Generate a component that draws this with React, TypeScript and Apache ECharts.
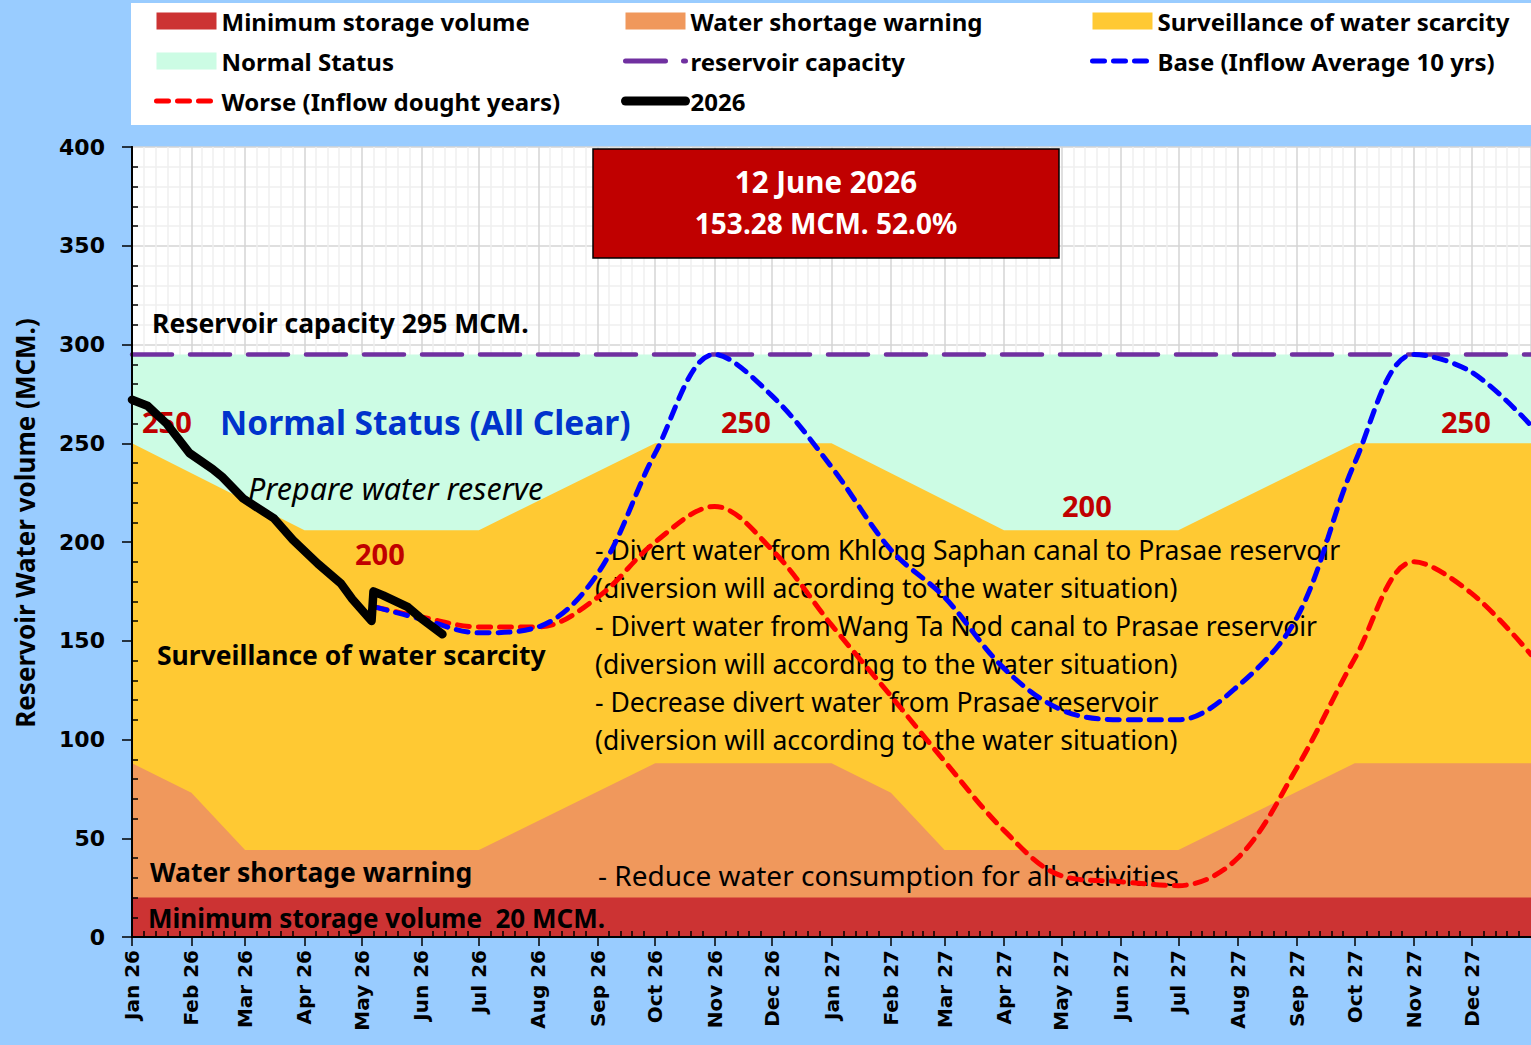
import React, { useEffect, useRef } from "react";
import * as echarts from "echarts";

// ---------- data ----------
const monthNames = ["Jan", "Feb", "Mar", "Apr", "May", "Jun", "Jul", "Aug", "Sep", "Oct", "Nov", "Dec"];
const axisStart = "2026-01-01";
const axisEnd = "2028-01-01";

const capacity = 295;
const minStorage = 20;

// top of "Water shortage warning" band
const shortageDates = ["2026-01-01", "2026-02-01", "2026-03-01", "2026-07-01", "2026-10-01", "2027-01-01", "2027-02-01", "2027-03-01", "2027-07-01", "2027-10-01", "2028-01-01"];
const shortageTop = [88, 73, 44, 44, 88, 88, 73, 44, 44, 88, 88];

// top of "Surveillance of water scarcity" band
const scarcityDates = ["2026-01-01", "2026-04-01", "2026-07-01", "2026-10-01", "2027-01-01", "2027-04-01", "2027-07-01", "2027-10-01", "2028-01-01"];
const scarcityTop = [250, 206, 206, 250, 250, 206, 206, 250, 250];

// projections
const projDates = ["2026-05-08", "2026-06-01", "2026-07-01", "2026-08-01", "2026-09-01", "2026-10-01", "2026-11-01", "2026-12-01", "2027-01-01", "2027-02-01", "2027-03-01", "2027-04-01", "2027-05-01", "2027-06-01", "2027-07-01", "2027-08-01", "2027-09-01", "2027-10-01", "2027-11-01", "2027-12-01", "2028-01-01"];
const baseValues = [167, 161, 154, 157, 184, 245, 295, 274, 238, 196, 172, 136, 115, 110, 110, 127, 162, 240, 295, 286, 259];
const worseValues = [167, 162, 157, 157, 172, 200, 218, 196, 158, 122, 89, 54, 31, 28, 26, 40, 86, 141, 190, 174, 143];

// observed 2026
const obsDates = ["2026-01-01", "2026-01-09", "2026-01-19", "2026-01-31", "2026-02-12", "2026-02-17", "2026-02-28", "2026-03-16", "2026-03-26", "2026-04-08", "2026-04-20", "2026-04-26", "2026-05-06", "2026-05-07", "2026-05-12", "2026-05-25", "2026-05-31", "2026-06-12"];
const obsValues = [272, 269, 260, 245, 237, 233, 222, 212, 201, 189, 179, 171, 160, 175, 173, 167, 162, 153.28];

const ts = (s: string) => {
  const [y, m, d] = s.split("-").map(Number);
  return new Date(y, m - 1, d).getTime();
};
const zip = (dates: string[], vals: number[]) => dates.map((d, i) => [ts(d), vals[i]]);

const FONT = '"Noto Sans", sans-serif';

export default function App() {
  const ref = useRef<HTMLDivElement>(null);
  useEffect(() => {
    if (!ref.current) return;
    const chart = echarts.init(ref.current, undefined, { renderer: "svg" });
    const xMin = ts(axisStart);
    const xMax = ts(axisEnd);
    const DAY = 86400000;

    const band = (name: string, data: number[][], color: string) => ({
      name,
      type: "line",
      data,
      symbol: "none",
      silent: true,
      z: 1,
      lineStyle: { width: 0, color },
      itemStyle: { color },
      areaStyle: { color, opacity: 1, origin: "start" },
    });

    const redStyle = { color: "#FF0000", width: 5, type: [12, 9], cap: "round" };
    const blueStyle = { color: "#0000FF", width: 5, type: [12, 9], cap: "round" };
    const purpleStyle = { color: "#7030A0", width: 4.5, type: [40, 18], cap: "round" };
    const blackStyle = { color: "#000", width: 8.5, cap: "round", join: "round" };

    const legendText = { fontFamily: FONT, fontWeight: "bold", fontSize: 24, color: "#000", lineHeight: 22 };
    const legendCommon = {
      orient: "vertical",
      top: 9,
      itemGap: 16,
      itemWidth: 60,
      itemHeight: 17,
      selectedMode: false,
      textStyle: legendText,
      padding: 0,
    };
    const lineItem = (name: string, ls: any) => ({ name, itemStyle: { opacity: 0 }, lineStyle: ls });

    const txt = (text: string, x: number, y: number, font: string, fill = "#000", extra: any = {}) => ({
      type: "text",
      x,
      y,
      z: 3,
      silent: true,
      style: { text, font, fill, align: "left", verticalAlign: "middle", textAlign: "left", textVerticalAlign: "middle", ...extra },
    });

    const option: any = {
      animation: false,
      backgroundColor: "#99CCFF",
      grid: { left: 132, right: 0, top: 147, bottom: 108, show: true, backgroundColor: "#ffffff", borderWidth: 0, containLabel: false, outerBoundsMode: "none" },
      legend: [
        { ...legendCommon, left: 154, data: [{ name: "Minimum storage volume", icon: "rect" }, { name: "Normal Status", icon: "rect" }, lineItem("Worse (Inflow dought years)", { ...redStyle })] },
        { ...legendCommon, left: 621, data: [{ name: "Water shortage warning", icon: "rect" }, lineItem("reservoir capacity", { ...purpleStyle, width: 5 }), lineItem("2026", { ...blackStyle, width: 9 })] },
        { ...legendCommon, left: 1090, data: [{ name: "Surveillance of water scarcity", icon: "rect" }, lineItem("Base (Inflow Average 10 yrs)", { ...blueStyle })] },
      ],
      xAxis: [
        {
          type: "time",
          min: xMin,
          max: xMax,
          minInterval: 28 * DAY,
          maxInterval: 31 * DAY,
          z: 0,
          axisLine: { show: true, lineStyle: { color: "#000", width: 2 } },
          axisTick: { show: true, length: 9, lineStyle: { color: "#000", width: 1.5 } },
          splitLine: { show: true, lineStyle: { color: "#d4d4d4", width: 1.5 } },
          minorTick: { show: false, splitNumber: 5 },
          minorSplitLine: { show: true, lineStyle: { color: "#efefef", width: 1.5 } },
          axisLabel: {
            rotate: 90,
            margin: 13,
            color: "#000",
            fontFamily: "DejaVu Sans",
            fontWeight: "bold",
            fontSize: 20,
            showMaxLabel: false,
            hideOverlap: false,
            formatter: (v: number) => {
              if (v >= xMax) return "";
              const d = new Date(v);
              return monthNames[d.getMonth()] + " " + String(d.getFullYear()).slice(2);
            },
          },
        },
        {
          type: "time",
          min: xMin,
          max: xMax,
          minInterval: 28 * DAY,
          maxInterval: 31 * DAY,
          position: "bottom",
          z: 6,
          axisLine: { show: true, lineStyle: { color: "#000", width: 2 } },
          axisTick: { show: false, inside: true },
          axisLabel: { show: false },
          splitLine: { show: false },
          minorTick: { show: true, splitNumber: 5, length: 6, lineStyle: { color: "#000", width: 1.5 } },
        },
      ],
      yAxis: [
        {
          type: "value",
          min: 0,
          max: 400,
          interval: 50,
          z: 0,
          axisLine: { show: true, lineStyle: { color: "#000", width: 2 } },
          axisTick: { show: true, length: 10, lineStyle: { color: "#000", width: 1.5 } },
          splitLine: { show: true, lineStyle: { color: "#d4d4d4", width: 1.5 } },
          minorTick: { show: false, splitNumber: 5 },
          minorSplitLine: { show: true, lineStyle: { color: "#efefef", width: 1.5 } },
          axisLabel: { margin: 27, color: "#000", fontFamily: "DejaVu Sans", fontWeight: "bold", fontSize: 22 },
        },
        {
          type: "value",
          min: 0,
          max: 400,
          interval: 50,
          position: "left",
          z: 6,
          axisLine: { show: true, lineStyle: { color: "#000", width: 2 } },
          axisTick: { show: false, inside: true },
          axisLabel: { show: false },
          splitLine: { show: false },
          minorTick: { show: true, splitNumber: 5, length: 6, lineStyle: { color: "#000", width: 1.5 } },
        },
      ],
      series: [
        band("Normal Status", [[xMin, capacity], [xMax, capacity]], "#CCFCE4"),
        band("Surveillance of water scarcity", zip(scarcityDates, scarcityTop), "#FFC933"),
        band("Water shortage warning", zip(shortageDates, shortageTop), "#F0985C"),
        band("Minimum storage volume", [[xMin, minStorage], [xMax, minStorage]], "#CC3333"),
        {
          name: "reservoir capacity",
          type: "line",
          data: [[xMin, capacity], [xMax, capacity]],
          symbol: "none",
          z: 4,
          itemStyle: { color: "#7030A0" },
          lineStyle: purpleStyle,
        },
        {
          name: "Worse (Inflow dought years)",
          type: "line",
          data: zip(projDates, worseValues),
          symbol: "none",
          smooth: 0.35,
          z: 5,
          itemStyle: { color: "#FF0000" },
          lineStyle: redStyle,
        },
        {
          name: "Base (Inflow Average 10 yrs)",
          type: "line",
          data: zip(projDates, baseValues),
          symbol: "none",
          smooth: 0.35,
          z: 5,
          itemStyle: { color: "#0000FF" },
          lineStyle: blueStyle,
        },
        {
          name: "2026",
          type: "line",
          data: zip(obsDates, obsValues),
          symbol: "none",
          z: 7,
          itemStyle: { color: "#000" },
          lineStyle: blackStyle,
        },
      ],
      graphic: [
        { type: "rect", z: -1, silent: true, shape: { x: 131, y: 3, width: 1400, height: 122 }, style: { fill: "#ffffff" } },
        {
          type: "text",
          x: 25,
          y: 523,
          rotation: Math.PI / 2,
          z: 3,
          silent: true,
          style: { text: "Reservoir Water volume (MCM.)", font: `bold 26px ${FONT}`, fill: "#000", align: "center", verticalAlign: "middle", textAlign: "center", textVerticalAlign: "middle" },
        },
        txt("Reservoir capacity 295 MCM.", 152, 323, `bold 26.5px ${FONT}`),
        txt("Normal Status (All Clear)", 220, 422, `bold 33.5px ${FONT}`, "#0033CC"),
        txt("250", 142, 421, `bold 29px ${FONT}`, "#C00000"),
        txt("250", 721, 421, `bold 29px ${FONT}`, "#C00000"),
        txt("250", 1441, 421, `bold 29px ${FONT}`, "#C00000"),
        txt("200", 355, 553, `bold 29px ${FONT}`, "#C00000"),
        txt("200", 1062, 505, `bold 29px ${FONT}`, "#C00000"),
        txt("Prepare water reserve", 248, 488, `italic 30.5px ${FONT}`),
        txt("Surveillance of water scarcity", 157, 655, `bold 26.5px ${FONT}`),
        txt("Water shortage warning", 150, 872, `bold 26.5px ${FONT}`),
        txt("Minimum storage volume  20 MCM.", 148, 918, `bold 26px ${FONT}`),
        {
          type: "text",
          x: 595,
          y: 531,
          z: 3,
          silent: true,
          style: {
            text:
              "- Divert water from Khlong Saphan canal to Prasae reservoir\n(diversion will according to the water situation)\n- Divert water from Wang Ta Nod canal to Prasae reservoir\n(diversion will according to the water situation)\n- Decrease divert water from Prasae reservoir\n(diversion will according to the water situation)",
            font: `26.5px ${FONT}`,
            lineHeight: 38,
            fill: "#000",
            align: "left",
            verticalAlign: "top",
            textAlign: "left",
            textVerticalAlign: "top",
          },
        },
        txt("- Reduce water consumption for all activities", 598, 875, `28px ${FONT}`),
        { type: "rect", z: 10, silent: true, shape: { x: 593, y: 149, width: 466, height: 109 }, style: { fill: "#C00000", stroke: "#000", lineWidth: 1.5 } },
        { ...txt("12 June 2026", 826, 181, `bold 29.5px ${FONT}`, "#fff", { align: "center", textAlign: "center" }), z: 11 },
        { ...txt("153.28 MCM. 52.0%", 826, 223, `bold 28px ${FONT}`, "#fff", { align: "center", textAlign: "center" }), z: 11 },
      ],
    };
    chart.setOption(option);
    return () => chart.dispose();
  }, []);
  return <div ref={ref} style={{ position: "absolute", left: 0, top: 0, width: 1531, height: 1045 }} />;
}
